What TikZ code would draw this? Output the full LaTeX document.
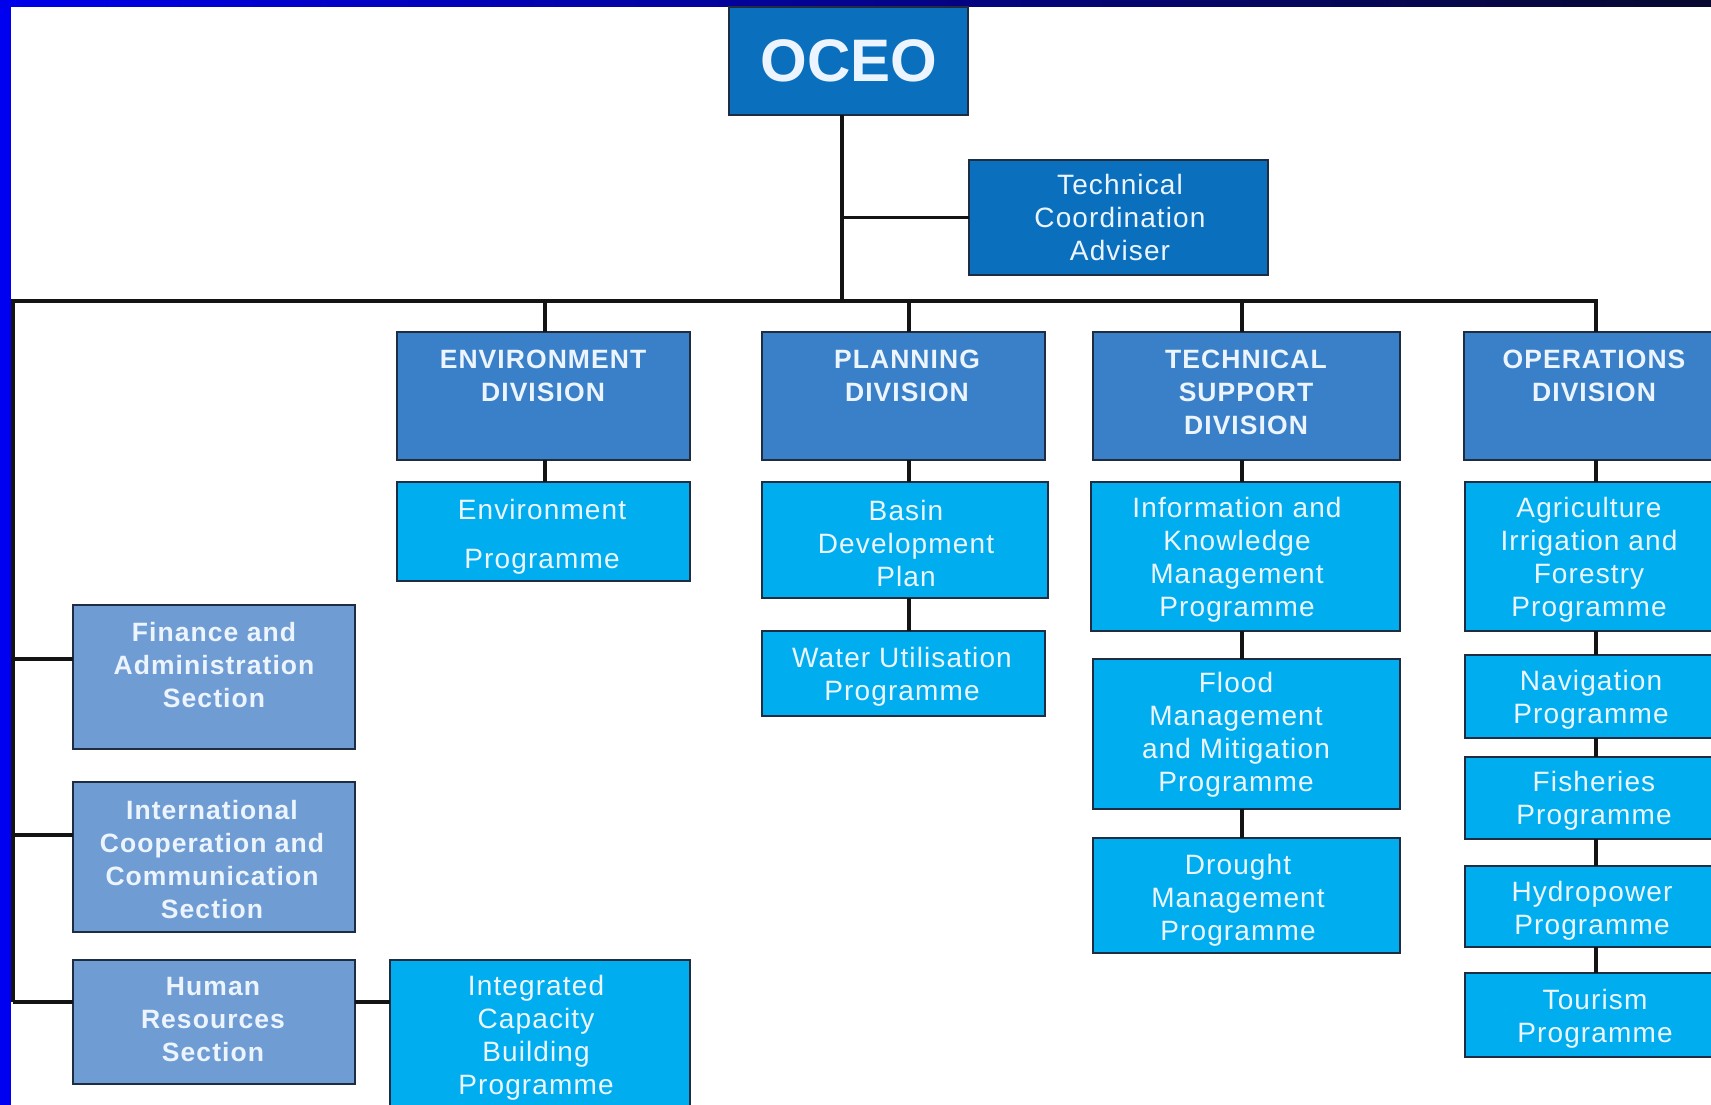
\documentclass[tikz,border=0pt]{standalone}
\usepackage{fontspec}
\setmainfont{Liberation Sans}
\newfontfamily\regf[LetterSpace=4]{Liberation Sans}
\newfontfamily\bldf[LetterSpace=4]{Liberation Sans}
\definecolor{ceo}{RGB}{10,112,190}
\definecolor{divc}{RGB}{58,128,200}
\definecolor{progc}{RGB}{0,174,239}
\definecolor{secc}{RGB}{112,156,212}
\definecolor{edge}{RGB}{30,45,65}
\definecolor{txt}{RGB}{236,245,255}
\definecolor{linec}{RGB}{20,20,20}
\definecolor{strip}{RGB}{0,0,240}
\newcommand\mybox[6]{\node[#2, minimum width={(#5-#3)*1pt}, minimum height={(#6-#4)*1pt}] (#1) at (#3,#4) {};}
\tikzset{
  box/.style={draw=edge, line width=1.5pt, inner sep=0pt, outer sep=0pt, anchor=north west, rectangle},
  ceobox/.style={box, fill=ceo},
  divbox/.style={box, fill=divc},
  progbox/.style={box, fill=progc},
  secbox/.style={box, fill=secc},
  rtxt/.style={text=txt, align=center, inner sep=0pt, font={\regf\fontsize{28pt}{33pt}\selectfont}},
  btxt/.style={text=txt, align=center, inner sep=0pt, font={\bldf\bfseries\fontsize{26.5pt}{33pt}\selectfont}},
  conn/.style={draw=linec, line width=3.5pt}
}
\begin{document}
\begin{tikzpicture}[x=1pt,y=-1pt]
\clip (0,0) rectangle (1711,1105);
\fill[white] (0,0) rectangle (1711,1105);
\fill[strip] (0,0) rectangle (11,1105);
\shade[left color={rgb,255:red,0;green,0;blue,235}, middle color={rgb,255:red,0;green,0;blue,185}, right color={rgb,255:red,8;green,8;blue,48}] (0,0) rectangle (1711,7);

% top
\mybox{oceo}{ceobox}{729}{7}{968}{115}
\node[text=txt, inner sep=0pt, font={\bfseries\fontsize{60pt}{60pt}\selectfont}] (oceoT) at (849,61) {OCEO};
\mybox{tca}{ceobox}{969}{160}{1268}{275}
\node[rtxt] (tcaT) at (1120,217) {Technical\\Coordination\\Adviser};

% divisions
\mybox{envd}{divbox}{397}{332}{690}{460}
\mybox{pland}{divbox}{762}{332}{1045}{460}
\mybox{techd}{divbox}{1093}{332}{1400}{460}
\mybox{opsd}{divbox}{1464}{332}{1722}{460}
\node[btxt] (envdT) at (543,375.5) {ENVIRONMENT\\DIVISION};
\node[btxt] (plandT) at (907,375.5) {PLANNING\\DIVISION};
\node[btxt] (techdT) at (1246,392) {TECHNICAL\\SUPPORT\\DIVISION};
\node[btxt] (opsdT) at (1594,375.5) {OPERATIONS\\DIVISION};

% programmes
\mybox{envp}{progbox}{397}{482}{690}{581}
\mybox{basin}{progbox}{762}{482}{1048}{598}
\mybox{water}{progbox}{762}{631}{1045}{716}
\mybox{info}{progbox}{1091}{482}{1400}{631}
\mybox{flood}{progbox}{1093}{659}{1400}{809}
\mybox{drought}{progbox}{1093}{838}{1400}{953}
\mybox{agri}{progbox}{1465}{482}{1722}{631}
\mybox{nav}{progbox}{1465}{655}{1722}{738}
\mybox{fish}{progbox}{1465}{757}{1722}{839}
\mybox{hydro}{progbox}{1465}{866}{1722}{947}
\mybox{tour}{progbox}{1465}{973}{1722}{1057}
\node[rtxt] (envpT) at (542,537) {Environment\\[16pt]Programme};
\node[rtxt] (basinT) at (906,543) {Basin\\Development\\Plan};
\node[rtxt] (waterT) at (902,677) {Water Utilisation\\Programme};
\node[rtxt] (infoT) at (1237,560) {Information and\\Knowledge\\Management\\Programme};
\node[rtxt] (floodT) at (1236,735) {Flood\\Management\\and Mitigation\\Programme};
\node[rtxt] (droughtT) at (1238,900) {Drought\\Management\\Programme};
\node[rtxt] (agriT) at (1589,560) {Agriculture\\Irrigation and\\Forestry\\Programme};
\node[rtxt] (navT) at (1591,700) {Navigation\\Programme};
\node[rtxt] (fishT) at (1594,801) {Fisheries\\Programme};
\node[rtxt] (hydroT) at (1592,911) {Hydropower\\Programme};
\node[rtxt] (tourT) at (1595,1019) {Tourism\\Programme};

% sections
\mybox{fin}{secbox}{73}{605}{355}{749}
\mybox{intl}{secbox}{73}{782}{355}{932}
\mybox{hr}{secbox}{73}{960}{355}{1084}
\mybox{icb}{progbox}{390}{960}{690}{1130}
\node[btxt] (finT) at (214,665) {Finance and\\Administration\\Section};
\node[btxt] (intlT) at (212,860) {International\\Cooperation and\\Communication\\Section};
\node[btxt] (hrT) at (213,1020) {Human\\Resources\\Section};
\node[rtxt] (icbT) at (536,1038) {Integrated\\Capacity\\Building\\Programme};

% connectors
\coordinate (hub) at (842,301);
\coordinate (lt) at (13,301);
\coordinate (lb) at (13,1002);
\coordinate (cE) at (545,301);
\coordinate (cP) at (909,301);
\coordinate (cT) at (1242,301);
\coordinate (cO) at (1596,301);
\coordinate (finY) at (13,659);
\coordinate (intlY) at (13,835);
\draw[conn] (oceo.south -| hub) -- (hub);
\draw[conn] (hub |- tca.west) -- (tca.west);
\draw[conn] (lb) -- (lt) -- (cO) -- (cO |- opsd.north);
\draw[conn] (cE) -- (cE |- envd.north);
\draw[conn] (cP) -- (cP |- pland.north);
\draw[conn] (cT) -- (cT |- techd.north);
\draw[conn] (cE |- envd.south) -- (cE |- envp.north);
\draw[conn] (cP |- pland.south) -- (cP |- basin.north);
\draw[conn] (cP |- basin.south) -- (cP |- water.north);
\draw[conn] (cT |- techd.south) -- (cT |- info.north);
\draw[conn] (cT |- info.south) -- (cT |- flood.north);
\draw[conn] (cT |- flood.south) -- (cT |- drought.north);
\draw[conn] (cO |- opsd.south) -- (cO |- agri.north);
\draw[conn] (cO |- agri.south) -- (cO |- nav.north);
\draw[conn] (cO |- nav.south) -- (cO |- fish.north);
\draw[conn] (cO |- fish.south) -- (cO |- hydro.north);
\draw[conn] (cO |- hydro.south) -- (cO |- tour.north);
\draw[conn] (finY) -- (finY -| fin.west);
\draw[conn] (intlY) -- (intlY -| intl.west);
\draw[conn] (lb) -- (lb -| hr.west);
\draw[conn] (lb -| hr.east) -- (lb -| icb.west);
\end{tikzpicture}
\end{document}
